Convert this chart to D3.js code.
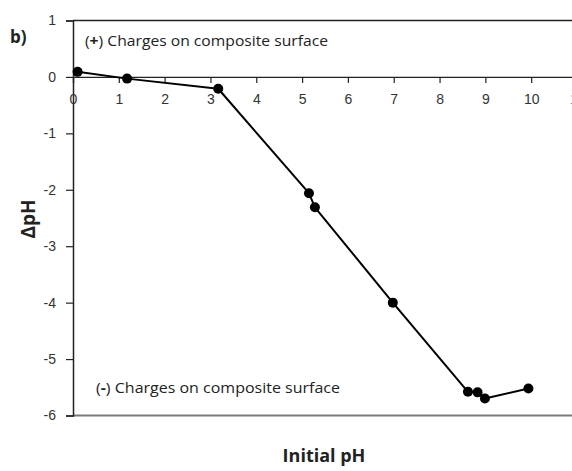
<!DOCTYPE html>
<html>
<head>
<meta charset="utf-8">
<script src="https://cdn.jsdelivr.net/npm/d3@7"></script>
<style>
body { margin:0; background:#fff; }
svg { display:block; font-family:"Open Sans", sans-serif; }
</style>
</head>
<body>
<div id="chart"></div>
<script>
// initial pH vs delta pH
var initialPH = [0.1, 1.18, 3.17, 5.15, 5.28, 6.98, 8.62, 8.83, 8.99, 9.94];
var deltaPH = [0.09, -0.03, -0.21, -2.06, -2.31, -4.0, -5.58, -5.59, -5.70, -5.52];
var xTicks = [0, 1, 2, 3, 4, 5, 6, 7, 8, 9, 10, 11];
var yTicks = [1, 0, -1, -2, -3, -4, -5, -6];

var svgSize = {width: 572, height: 471};

var svg = d3.select('#chart').append('svg')
    .attr('width', svgSize.width)
    .attr('height', svgSize.height);

var x = d3.scaleLinear().domain([0, 11]).range([73, 577]);
var y = d3.scaleLinear().domain([-6, 1]).range([415.5, 20.5]);

// plain hyphen for negatives, like the original
var fmt = function(d) { return String(d); };

var points = initialPH.map(function(v, i) { return {x: v, y: deltaPH[i]}; });

// frame: top border, bottom border (gray)
svg.append('line')
    .attr('x1', x(0)).attr('x2', 580)
    .attr('y1', y(1)).attr('y2', y(1))
    .attr('stroke', '#222').attr('stroke-width', 1.3);
svg.append('line')
    .attr('x1', x(0)).attr('x2', 580)
    .attr('y1', y(-6)).attr('y2', y(-6))
    .attr('stroke', '#7a7a7a').attr('stroke-width', 2);

// y axis
var yAxis = svg.append('g')
    .attr('transform', 'translate(' + x(0) + ',0)')
    .call(d3.axisLeft(y).tickValues(yTicks).tickSize(7).tickPadding(10).tickFormat(fmt));
yAxis.select('.domain').attr('stroke', '#222').attr('stroke-width', 1.5);
yAxis.selectAll('.tick line').attr('stroke', '#222').attr('stroke-width', 1.2);
yAxis.selectAll('text').attr('font-size', 14).attr('fill', '#333');

// x axis at y = 0
var xAxis = svg.append('g')
    .attr('transform', 'translate(0,' + y(0) + ')')
    .call(d3.axisBottom(x).tickValues(xTicks).tickSize(6).tickPadding(11).tickFormat(fmt));
xAxis.select('.domain').attr('stroke', '#222').attr('stroke-width', 1.2);
xAxis.selectAll('.tick line').attr('stroke', '#222').attr('stroke-width', 1.2);
xAxis.selectAll('text').attr('font-size', 14).attr('fill', '#333');

// data line
var line = d3.line()
    .x(function(d) { return x(d.x); })
    .y(function(d) { return y(d.y); });

svg.append('path')
    .datum(points)
    .attr('fill', 'none')
    .attr('stroke', '#000')
    .attr('stroke-width', 2)
    .attr('stroke-linejoin', 'round')
    .attr('d', line);

svg.append('g').selectAll('circle')
    .data(points)
    .enter()
    .append('circle')
    .attr('r', 5)
    .attr('fill', '#000')
    .attr('cx', function(d) { return x(d.x); })
    .attr('cy', function(d) { return y(d.y); });

// annotations
var t1 = svg.append('text')
    .attr('x', 85).attr('y', 46)
    .attr('font-size', 14).attr('fill', '#222')
    .attr('textLength', 243).attr('lengthAdjust', 'spacingAndGlyphs');
t1.append('tspan').text('(');
t1.append('tspan').attr('font-weight', 'bold').text('+');
t1.append('tspan').text(') Charges on composite surface');

var t2 = svg.append('text')
    .attr('x', 96).attr('y', 393)
    .attr('font-size', 14).attr('fill', '#222')
    .attr('textLength', 244).attr('lengthAdjust', 'spacingAndGlyphs');
t2.append('tspan').text('(');
t2.append('tspan').attr('font-weight', 'bold').text('-');
t2.append('tspan').text(') Charges on composite surface');

svg.append('text')
    .attr('x', 10).attr('y', 43)
    .attr('font-size', 17).attr('font-weight', 'bold').attr('fill', '#222')
    .text('b)');

svg.append('text')
    .attr('x', 324).attr('y', 462)
    .attr('text-anchor', 'middle')
    .attr('font-size', 18).attr('font-weight', 'bold').attr('fill', '#222')
    .text('Initial pH');

svg.append('text')
    .attr('transform', 'translate(35,219) rotate(-90)')
    .attr('text-anchor', 'middle')
    .attr('font-size', 19).attr('font-weight', 'bold').attr('fill', '#222')
    .text('ΔpH');
</script>
</body>
</html>
